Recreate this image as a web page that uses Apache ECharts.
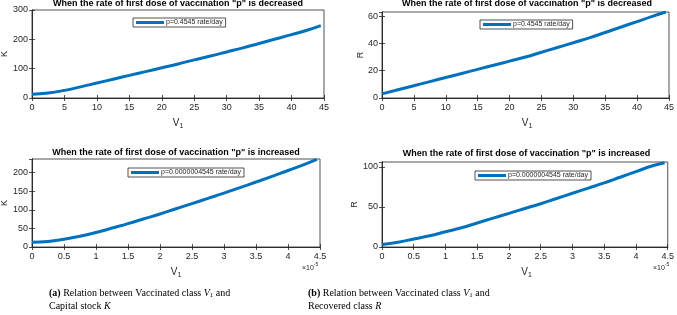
<!DOCTYPE html>
<html><head><meta charset="utf-8">
<script src="https://cdn.jsdelivr.net/npm/echarts@6/dist/echarts.min.js"></script>
<style>html,body{margin:0;padding:0;background:#fff}#c{width:677px;height:315px}</style>
</head><body><div id="c"></div>
<script>
// Data
const v1Dec = [0, 2.5, 5, 7.5, 10, 12.5, 15, 17.5, 20, 22.5, 25, 27.5, 30, 32.5, 35, 37.5, 40, 42.5, 44.5];
const kDec  = [13, 17, 26, 38, 51, 64, 77, 90, 103, 116, 130, 143, 157, 171, 186, 201, 216, 232, 247];
const rDec  = [3, 6, 9, 12, 15, 18, 21, 24, 27, 30, 33.5, 37, 40.5, 44, 48, 52, 56, 60, 63];
const v1Inc = [0, 0.25, 0.5, 0.75, 1, 1.25, 1.5, 1.75, 2, 2.25, 2.5, 2.75, 3, 3.25, 3.5, 3.75, 4, 4.25, 4.45];
const kInc  = [13, 15, 21, 29, 39, 51, 63, 76, 89, 103, 117, 131, 145, 160, 175, 190, 206, 222, 236];
const rInc  = [3, 6, 10, 14, 19, 24, 30, 36, 42, 48, 54, 60.5, 67, 73.5, 80, 87, 94, 101, 105];
const titleDec = 'When the rate of first dose of vaccination "p" is decreased';
const titleInc = 'When the rate of first dose of vaccination "p" is increased';
const legDec = 'p=0.4545 rate/day';
const legInc = 'p=0.0000004545 rate/day';

const BLUE = '#0072BD';
const FONT = 'Liberation Sans, Arial, sans-serif';
const panels = [
  {x: v1Dec, y: kDec, left: 32, right: 353, top: 10, height: 88, xmax: 45, xint: 5, ymax: 300, yint: 100, yname: 'K', title: titleDec, leg: legDec, legX: 133, legY: 18},
  {x: v1Dec, y: rDec, left: 382, right: 5, top: 12, height: 86, xmax: 45, xint: 5, ymax: 63, yint: 20, yname: 'R', title: titleDec, leg: legDec, legX: 480, legY: 20},
  {x: v1Inc, y: kInc, left: 32, right: 357, top: 159, height: 88, xmax: 4.5, xint: 0.5, ymax: 237, yint: 50, yname: 'K', title: titleInc, leg: legInc, legX: 128, legY: 168},
  {x: v1Inc, y: rInc, left: 382, right: 6, top: 162, height: 85, xmax: 4.5, xint: 0.5, ymax: 106, yint: 50, yname: 'R', title: titleInc, leg: legInc, legX: 475, legY: 171}
];

const grid = [], xAxis = [], yAxis = [], series = [], legend = [], graphic = [];
panels.forEach((p, i) => {
  grid.push({left: p.left, right: p.right, top: p.top, height: p.height, show: true, borderColor: '#262626', borderWidth: 0.8, backgroundColor: '#fff'});
  const axLine = {show: true, lineStyle: {color: '#262626', width: 0.8}};
  const tick = {show: true, inside: true, length: 3, lineStyle: {color: '#262626', width: 0.8}};
  xAxis.push({type: 'value', gridIndex: i, min: 0, max: p.xmax, interval: p.xint, position: 'bottom',
    axisLine: axLine, axisTick: tick, splitLine: {show: false},
    axisLabel: {color: '#262626', fontSize: 9, fontFamily: FONT, margin: 5, showMaxLabel: true}});
  xAxis.push({type: 'value', gridIndex: i, min: 0, max: p.xmax, interval: p.xint, position: 'top',
    axisLine: axLine, axisTick: tick, splitLine: {show: false}, axisLabel: {show: false}});
  yAxis.push({type: 'value', gridIndex: i, min: 0, max: p.ymax, interval: p.yint, position: 'left',
    axisLine: axLine, axisTick: tick, splitLine: {show: false},
    axisLabel: {color: '#262626', fontSize: 9, fontFamily: FONT, margin: 4, showMaxLabel: p.ymax % p.yint === 0}});
  yAxis.push({type: 'value', gridIndex: i, min: 0, max: p.ymax, interval: p.yint, position: 'right',
    axisLine: axLine, axisTick: tick, splitLine: {show: false}, axisLabel: {show: false}});
  series.push({type: 'line', name: p.leg + '#' + i, xAxisIndex: 2 * i, yAxisIndex: 2 * i,
    data: p.x.map((v, j) => [v, p.y[j]]), smooth: 0.5, showSymbol: false,
    lineStyle: {color: BLUE, width: 3}, itemStyle: {color: BLUE}});
  legend.push({data: [p.leg + '#' + i], left: p.legX, top: p.legY, orient: 'vertical',
    borderColor: '#262626', borderWidth: 0.8, padding: [1, 3, 1, 3], backgroundColor: '#fff',
    itemWidth: 28, itemHeight: 3, itemGap: 0, icon: 'rect',
    formatter: n => n.split('#')[0],
    textStyle: {fontSize: 7, fontFamily: FONT, color: '#262626', padding: [0, 0, 0, -3]}});
});

const W = 677;
function cx(p) { return p.left + (W - p.right - p.left) / 2; }
panels.forEach((p, i) => {
  const bottom = p.top + p.height;
  graphic.push({type: 'text', style: {text: p.title, x: 0, y: 0, font: 'bold 9px ' + FONT, fill: '#000', textAlign: 'center', textVerticalAlign: 'middle'},
    x: cx(p), y: p.top - (i === 1 || i === 3 ? 8 : 6)});
  graphic.push({type: 'text', style: {text: p.yname, font: '9px ' + FONT, fill: '#262626', textAlign: 'center', textVerticalAlign: 'middle'},
    x: p.left - (p.ymax >= 100 ? 27 : 21), y: p.top + p.height / 2, rotation: Math.PI / 2});
  graphic.push({type: 'text', style: {text: 'V{s|1}', font: '10px ' + FONT, fill: '#262626', textAlign: 'center', textVerticalAlign: 'middle',
      rich: {s: {fontSize: 7, fontFamily: FONT, fill: '#262626', padding: [6, 0, 0, 0]}}},
    x: cx(p), y: bottom + 25});
  if (p.xmax < 10) {
    graphic.push({type: 'text', style: {text: '×10{s|-5}', font: '7px ' + FONT, fill: '#262626', textAlign: 'left', textVerticalAlign: 'middle',
      rich: {s: {fontSize: 5, fontFamily: FONT, fill: '#262626', padding: [0, 0, 6, 0]}}},
      x: W - p.right - 18, y: bottom + 21});
  }
});
const SERIF = 'Liberation Serif, DejaVu Serif, serif';
graphic.push({type: 'text', x: 49, y: 287, style: {text: '{b|(a)} Relation between Vaccinated class {i|V}{s|1} and\nCapital stock {i|K}', font: '10px ' + SERIF, fill: '#000', lineHeight: 13,
  rich: {b: {fontWeight: 'bold', fontSize: 10, fontFamily: SERIF}, i: {fontStyle: 'italic', fontSize: 10, fontFamily: SERIF}, s: {fontSize: 7, fontFamily: SERIF, padding: [4, 0, 0, 0]}}}});
graphic.push({type: 'text', x: 308, y: 287, style: {text: '{b|(b)} Relation between Vaccinated class {i|V}{s|1} and\nRecovered class {i|R}', font: '10px ' + SERIF, fill: '#000', lineHeight: 13,
  rich: {b: {fontWeight: 'bold', fontSize: 10, fontFamily: SERIF}, i: {fontStyle: 'italic', fontSize: 10, fontFamily: SERIF}, s: {fontSize: 7, fontFamily: SERIF, padding: [4, 0, 0, 0]}}}});

const chart = echarts.init(document.getElementById('c'), null, {renderer: 'canvas'});
chart.setOption({animation: false, backgroundColor: '#fff', grid, xAxis, yAxis, series, legend, graphic});
</script></body></html>
